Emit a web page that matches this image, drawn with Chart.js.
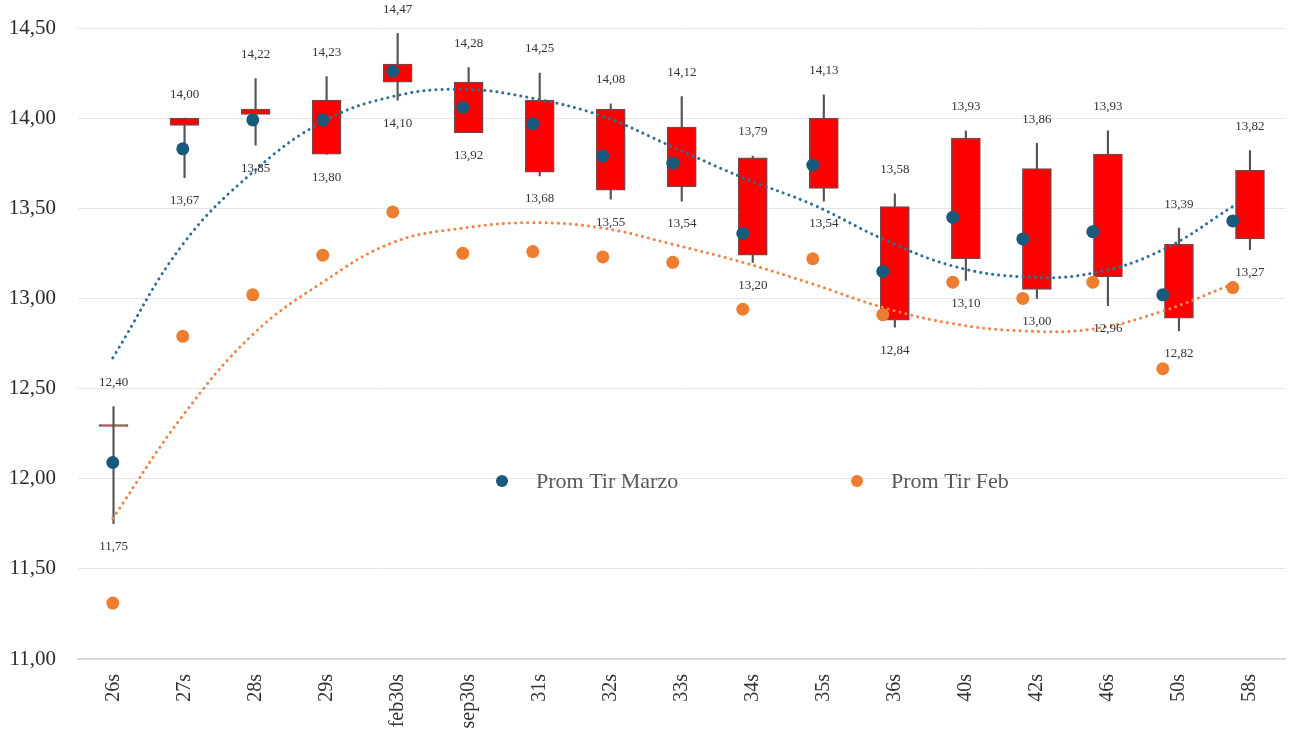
<!DOCTYPE html>
<html>
<head>
<meta charset="utf-8">
<script src="https://cdn.jsdelivr.net/npm/chart.js@4.4.1/dist/chart.umd.min.js"></script>
<style>
  html, body { margin: 0; padding: 0; background: #fff; }
  #wrap { width: 1292px; height: 732px; }
</style>
</head>
<body>
<div id="wrap"><canvas id="chart" width="1292" height="732"></canvas></div>
<script>
// ============================================================================
// Data
// ============================================================================
const categories = ['26s', '27s', '28s', '29s', 'feb30s', 'sep30s', '31s', '32s', '33s',
                    '34s', '35s', '36s', '40s', '42s', '46s', '50s', '58s'];

// stock boxes
const boxBottom = [12.29, 13.96, 14.02, 13.80, 14.20, 13.92, 13.70, 13.60, 13.62,
                   13.24, 13.61, 12.88, 13.22, 13.05, 13.12, 12.89, 13.33];
const boxTop    = [12.30, 14.00, 14.05, 14.10, 14.30, 14.20, 14.10, 14.05, 13.95,
                   13.78, 14.00, 13.51, 13.89, 13.72, 13.80, 13.30, 13.71];
const highVals  = [12.40, 14.00, 14.22, 14.23, 14.47, 14.28, 14.25, 14.08, 14.12,
                   13.79, 14.13, 13.58, 13.93, 13.86, 13.93, 13.39, 13.82];
const lowVals   = [11.75, 13.67, 13.85, 13.80, 14.10, 13.92, 13.68, 13.55, 13.54,
                   13.20, 13.54, 12.84, 13.10, 13.00, 12.96, 12.82, 13.27];

// averages
const promMarzo = [12.09, 13.83, 13.99, 13.99, 14.26, 14.06, 13.97, 13.79, 13.75,
                   13.36, 13.74, 13.15, 13.45, 13.33, 13.37, 13.02, 13.43];
const promFeb   = [11.31, 12.79, 13.02, 13.24, 13.48, 13.25, 13.26, 13.23, 13.20,
                   12.94, 13.22, 12.91, 13.09, 13.00, 13.09, 12.61, 13.06];

// trendlines
const trendMarzo = [12.67, 13.30, 13.70, 13.98, 14.12, 14.16, 14.11, 14.01, 13.84,
                    13.67, 13.52, 13.33, 13.18, 13.12, 13.14, 13.27, 13.51];
const trendFeb   = [11.78, 12.35, 12.80, 13.09, 13.31, 13.39, 13.42, 13.39, 13.30,
                    13.20, 13.08, 12.95, 12.86, 12.82, 12.83, 12.93, 13.08];

const yTicks = [11.0, 11.5, 12.0, 12.5, 13.0, 13.5, 14.0, 14.5];

// ============================================================================
// Helpers
// ============================================================================
const BLUE = '#175a7c';
const ORANGE = '#ed7d31';
const fmt = v => v.toFixed(2).replace('.', ',');
const asPoints = arr => arr.map((y, i) => ({ x: i + 1, y: y }));

// high / low labels
const hiLoLabels = {
    id: 'hiLoLabels',
    afterDatasetsDraw(chart) {
        const ctx = chart.ctx;
        const xs = chart.scales.x;
        const ys = chart.scales.y;
        ctx.save();
        ctx.font = '13px "Liberation Serif", serif';
        ctx.fillStyle = '#333';
        ctx.textAlign = 'center';
        ctx.textBaseline = 'middle';
        categories.forEach((c, i) => {
            const x = xs.getPixelForValue(i);
            ctx.fillText(fmt(highVals[i]), x, ys.getPixelForValue(highVals[i]) - 24);
            ctx.fillText(fmt(lowVals[i]), x, ys.getPixelForValue(lowVals[i]) + 23);
        });
        ctx.restore();
    }
};

// legend drawn inside the plot
const innerLegend = {
    id: 'innerLegend',
    afterDraw(chart) {
        const ctx = chart.ctx;
        const items = [
            { label: 'Prom Tir Marzo', color: BLUE, x: 502 },
            { label: 'Prom Tir Feb', color: ORANGE, x: 857 }
        ];
        ctx.save();
        ctx.font = '22px "Liberation Serif", serif';
        ctx.textBaseline = 'middle';
        ctx.textAlign = 'left';
        items.forEach(it => {
            ctx.fillStyle = it.color;
            ctx.beginPath();
            ctx.arc(it.x, 481, 6, 0, Math.PI * 2);
            ctx.fill();
            ctx.fillStyle = '#595959';
            ctx.fillText(it.label, it.x + 34, 482);
        });
        ctx.restore();
    }
};

// ============================================================================
// Chart
// ============================================================================
const ctx = document.getElementById('chart').getContext('2d');
new Chart(ctx, {
    type: 'bar',
    data: {
        labels: categories,
        datasets: [
            {
                label: 'Rango',
                data: categories.map((c, i) => [lowVals[i], highVals[i]]),
                backgroundColor: '#555',
                barThickness: 1.5,
                grouped: false,
                order: 3
            },
            {
                label: 'Caja',
                data: categories.map((c, i) => [boxBottom[i], boxTop[i]]),
                backgroundColor: '#ff0000',
                borderColor: '#7b4343',
                borderWidth: 1.5,
                borderSkipped: false,
                barThickness: 29,
                grouped: false,
                order: 2
            },
            {
                type: 'line',
                label: 'Tendencia Marzo',
                xAxisID: 'xs',
                data: asPoints(trendMarzo),
                borderColor: '#2f6f94',
                borderWidth: 3,
                borderDash: [0.1, 6],
                borderCapStyle: 'round',
                pointRadius: 0,
                tension: 0.4,
                fill: false,
                order: 1
            },
            {
                type: 'line',
                label: 'Tendencia Feb',
                xAxisID: 'xs',
                data: asPoints(trendFeb),
                borderColor: '#ee8446',
                borderWidth: 3,
                borderDash: [0.1, 6],
                borderCapStyle: 'round',
                pointRadius: 0,
                tension: 0.4,
                fill: false,
                order: 1
            },
            {
                type: 'line',
                label: 'Prom Tir Marzo',
                xAxisID: 'xs',
                data: asPoints(promMarzo),
                showLine: false,
                pointRadius: 6.5,
                pointBackgroundColor: BLUE,
                pointBorderWidth: 0,
                order: 0
            },
            {
                type: 'line',
                label: 'Prom Tir Feb',
                xAxisID: 'xs',
                data: asPoints(promFeb),
                showLine: false,
                pointRadius: 6.5,
                pointBackgroundColor: ORANGE,
                pointBorderWidth: 0,
                order: 0
            }
        ]
    },
    options: {
        responsive: false,
        animation: false,
        layout: { padding: { top: 28, right: 0, left: 0, bottom: 0 } },
        plugins: {
            legend: { display: false },
            tooltip: { enabled: false }
        },
        scales: {
            x: {
                grid: { display: false },
                border: { color: '#d4d4d4', width: 1.5 },
                ticks: {
                    autoSkip: false,
                    minRotation: 90,
                    maxRotation: 90,
                    padding: 7,
                    color: '#333',
                    font: { family: '"Liberation Serif", serif', size: 20 }
                },
                afterFit: scale => {
                    scale.height = 73;
                    scale.paddingLeft = 0;
                    scale.paddingRight = 0;
                }
            },
            xs: {
                type: 'linear',
                display: false,
                offset: false,
                grid: { offset: false },
                min: 0.503,
                max: 17.753
            },
            y: {
                min: 11,
                max: 14.5,
                afterBuildTicks: scale => { scale.ticks = yTicks.map(v => ({ value: v })); },
                grid: { color: '#e6e6e6', drawTicks: false },
                border: { display: false },
                ticks: {
                    padding: 22,
                    color: '#2b2b2b',
                    font: { family: '"Liberation Serif", serif', size: 21 },
                    callback: v => fmt(v)
                },
                afterFit: scale => {
                    scale.width = 78;
                    scale.paddingTop = 0;
                    scale.paddingBottom = 0;
                }
            }
        }
    },
    plugins: [hiLoLabels, innerLegend]
});
</script>
</body>
</html>
